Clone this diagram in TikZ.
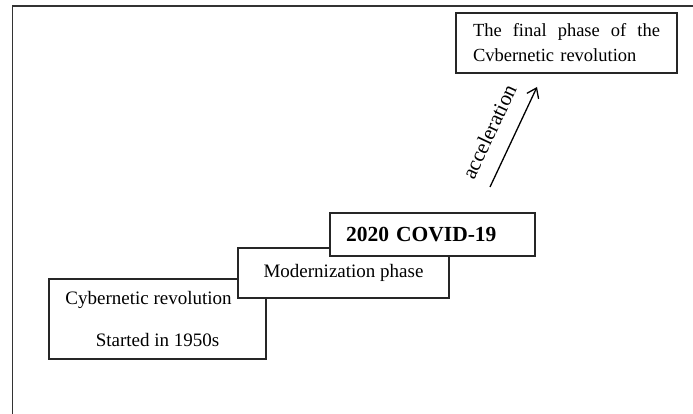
\documentclass[tikz,border=0pt]{standalone}
\usepackage{fontspec}
\setmainfont{Liberation Serif}
\usetikzlibrary{positioning, arrows.meta}

\begin{document}
\begin{tikzpicture}[x=1pt, y=1pt, on grid, >={Straight Barb[length=9pt, width=13pt]},
    stage/.style={draw=black!85, fill=white, line width=1.1pt, inner sep=0pt, font=\fontsize{19}{42}\selectfont, align=center}]
  \useasboundingbox (0,0) rectangle (693,414);
  \draw[black!80, line width=1.5pt] (693,408) -- (12.5,408) -- (12.5,0);
  \node[stage, minimum width=217pt, minimum height=80pt] (cyber) at (157.5,95) {Cybernetic revolution\hspace*{18pt}\\Started in 1950s};
  \node[stage, minimum width=211pt, minimum height=50pt, right=186pt of cyber, yshift=46pt] (modern) {Modernization phase};
  \node[stage, minimum width=205pt, minimum height=43pt, right=89pt of modern, yshift=38.5pt,
        font=\fontsize{21.5}{25}\selectfont\bfseries, text width=173pt, align=left] (covid) {2020 COVID-19};
  \node[stage, minimum width=221pt, minimum height=60pt, right=134pt of covid, yshift=191.5pt,
        font=\fontsize{18.5}{25}\selectfont, text width=187pt, align=left] (final) {The\hfill final\hfill phase\hfill of\hfill the\\Cvbernetic revolution};
  \coordinate (accfrom) at (490,227);
  \coordinate (accto) at (537,327);
  \draw[->, line width=1.3pt] (accfrom) -- node[sloped, above=13pt, pos=0.45, font=\fontsize{21}{24}\selectfont] (acclabel) {acceleration} (accto);
\end{tikzpicture}
\end{document}
